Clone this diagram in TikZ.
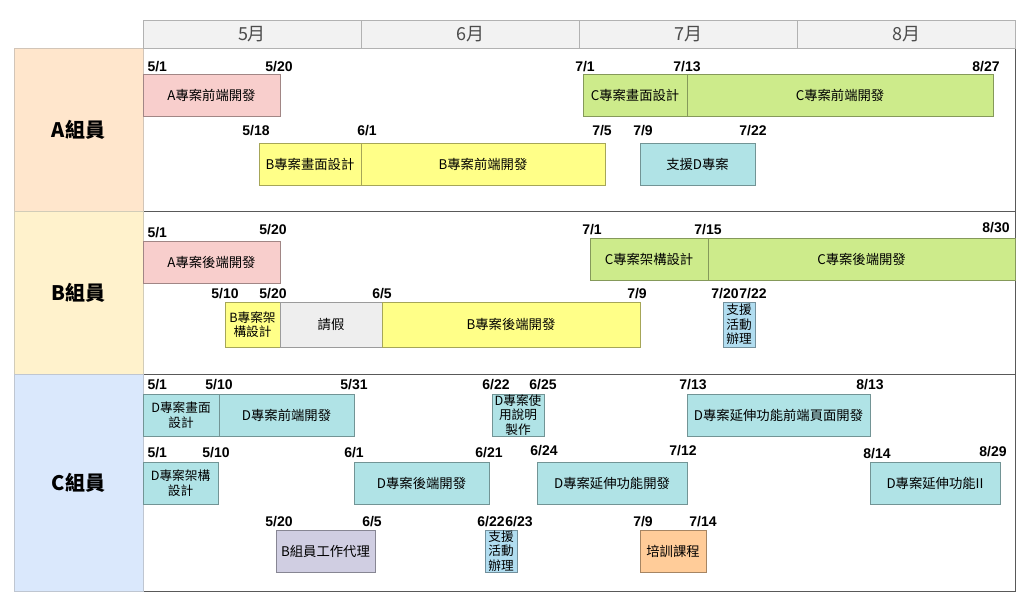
\documentclass[tikz,border=0pt]{standalone}
\usepackage{fontspec}
\setmainfont{Liberation Sans}
\newfontfamily\cjk{Noto Sans CJK TC}
\usetikzlibrary{positioning}
\definecolor{cpink}{HTML}{F8CECC}
\definecolor{cgreen}{HTML}{CDEB8B}
\definecolor{cyellow}{HTML}{FFFF88}
\definecolor{ccyan}{HTML}{B0E3E6}
\definecolor{clblue}{HTML}{B1DDF0}
\definecolor{cleave}{HTML}{EEEEEE}
\definecolor{cpurple}{HTML}{D0CEE2}
\definecolor{corange}{HTML}{FFCC99}
\definecolor{cmemA}{HTML}{FFE6CC}
\definecolor{cmemB}{HTML}{FFF2CC}
\definecolor{cmemC}{HTML}{DAE8FC}
\tikzset{
  every picture/.style={x=0.75pt, y=-0.75pt, line width=0.75pt},
  w/.style={minimum width=#1*0.75pt},
  h/.style={minimum height=#1*0.75pt},
  task/.style={draw=#1!65!black, fill=#1, h=42, inner sep=0, outer sep=0, align=center,
    font=\cjk\fontsize{10}{13}\selectfont},
  small/.style={font=\cjk\fontsize{9.5}{11}\selectfont},
  month/.style={draw=gray!60, fill=gray!10, w=218, h=28, inner sep=0, outer sep=0,
    text=black!70, font=\cjk\fontsize{13.5}{16}\selectfont},
  member/.style={draw=#1!75!black!70, fill=#1, w=129, h=163, inner sep=0, outer sep=0,
    font=\cjk\bfseries\fontsize{15}{18}\selectfont},
  lane/.style={draw=black!65, w=872, h=163, inner sep=0, outer sep=0},
  date/.style={font=\bfseries\fontsize{10.5}{12}\selectfont, inner sep=0, anchor=base},
}
\begin{document}
\begin{tikzpicture}
  \useasboundingbox (0,0) rectangle (1024,601);
  % lanes and members
  \node[lane, anchor=north west] (laneA) at (143,48) {};
  \node[lane, anchor=north west] (laneB) at (143,211) {};
  \node[lane, h=217, anchor=north west] (laneC) at (143,374) {};
  \node[member=cmemA, anchor=north west] (memA) at (14,48) {A組員};
  \node[member=cmemB, anchor=north west] (memB) at (14,211) {B組員};
  \node[member=cmemC, h=217, anchor=north west] (memC) at (14,374) {C組員};
  % months
  \node[month, anchor=north west] (m5) at (143,20) {5月};
  \node[month, right=0pt of m5] (m6) {6月};
  \node[month, right=0pt of m6] (m7) {7月};
  \node[month, right=0pt of m7] (m8) {8月};

  % A
  \node[task=cpink, w=137, anchor=north west] (aFront) at (143,74) {A專案前端開發};
  \node[task=cgreen, w=104, anchor=north west] (cUi) at (583,74) {C專案畫面設計};
  \node[task=cgreen, w=306, right=0pt of cUi] (cFront) {C專案前端開發};
  \node[task=cyellow, w=102, anchor=north west] (bUi) at (259,143) {B專案畫面設計};
  \node[task=cyellow, w=244, right=0pt of bUi] (bFront) {B專案前端開發};
  \node[task=ccyan, w=115, anchor=north west] (dHelp) at (640,143) {支援D專案};
  \node[date, anchor=base west] (dA1) at (147,71) {5/1};
  \node[date] (dA2) at (279,71) {5/20};
  \node[date] (dA3) at (585,71) {7/1};
  \node[date] (dA4) at (687,71) {7/13};
  \node[date] (dA5) at (986,71) {8/27};
  \node[date] (dA6) at (256,135) {5/18};
  \node[date] (dA7) at (367,135) {6/1};
  \node[date] (dA8) at (602,135) {7/5};
  \node[date] (dA9) at (643,135) {7/9};
  \node[date] (dA10) at (753,135) {7/22};

  % B
  \node[task=cpink, w=137, anchor=north west] (aBack) at (143,241) {A專案後端開發};
  \node[task=cgreen, w=118, anchor=north west] (cArch) at (590,238) {C專案架構設計};
  \node[task=cgreen, w=307, right=0pt of cArch] (cBack) {C專案後端開發};
  \node[task=cyellow, small, w=55, h=45, anchor=north west] (bArch) at (225,302) {B專案架\\構設計};
  \node[task=cleave, w=102, h=45, right=0pt of bArch] (leave) {請假};
  \node[task=cyellow, w=258, h=45, right=0pt of leave] (bBack) {B專案後端開發};
  \node[task=clblue, small, w=32, h=45, anchor=north west] (bEvent) at (723,302) {支援\\活動\\辦理};
  \node[date, anchor=base west] (dB1) at (147,237) {5/1};
  \node[date] (dB2) at (273,234) {5/20};
  \node[date] (dB3) at (592,234) {7/1};
  \node[date] (dB4) at (708,234) {7/15};
  \node[date] (dB5) at (996,232) {8/30};
  \node[date] (dB6) at (225,298) {5/10};
  \node[date] (dB7) at (273,298) {5/20};
  \node[date] (dB8) at (382,298) {6/5};
  \node[date] (dB9) at (637,298) {7/9};
  \node[date] (dB10) at (725,298) {7/20};
  \node[date] (dB11) at (753,298) {7/22};

  % C
  \node[task=ccyan, small, w=76, anchor=north west] (dUi) at (143,394) {D專案畫面\\設計};
  \node[task=ccyan, w=135, right=0pt of dUi] (dFront) {D專案前端開發};
  \node[task=ccyan, small, w=52, anchor=north west] (dManual) at (492,394) {D專案使\\用說明\\製作};
  \node[task=ccyan, w=183, anchor=north west] (dExtFront) at (687,394) {D專案延伸功能前端頁面開發};
  \node[task=ccyan, small, w=75, anchor=north west] (dArch) at (143,462) {D專案架構\\設計};
  \node[task=ccyan, w=135, anchor=north west] (dBack) at (354,462) {D專案後端開發};
  \node[task=ccyan, w=150, anchor=north west] (dExt) at (537,462) {D專案延伸功能開發};
  \node[task=ccyan, w=130, anchor=north west] (dExt2) at (870,462) {D專案延伸功能II};
  \node[task=cpurple, w=99, anchor=north west] (cProxy) at (276,530) {B組員工作代理};
  \node[task=clblue, small, w=32, anchor=north west] (cEvent) at (485,530) {支援\\活動\\辦理};
  \node[task=corange, w=66, anchor=north west] (train) at (640,530) {培訓課程};
  \node[date, anchor=base west] (dC1) at (147,389) {5/1};
  \node[date] (dC2) at (219,389) {5/10};
  \node[date] (dC3) at (354,389) {5/31};
  \node[date] (dC4) at (496,389) {6/22};
  \node[date] (dC5) at (543,389) {6/25};
  \node[date] (dC6) at (693,389) {7/13};
  \node[date] (dC7) at (870,389) {8/13};
  \node[date, anchor=base west] (dC8) at (147,457) {5/1};
  \node[date] (dC9) at (216,457) {5/10};
  \node[date] (dC10) at (354,457) {6/1};
  \node[date] (dC11) at (489,457) {6/21};
  \node[date] (dC12) at (544,455) {6/24};
  \node[date] (dC13) at (683,455) {7/12};
  \node[date] (dC14) at (877,458) {8/14};
  \node[date] (dC15) at (993,456) {8/29};
  \node[date] (dC16) at (279,526) {5/20};
  \node[date] (dC17) at (372,526) {6/5};
  \node[date] (dC18) at (491,526) {6/22};
  \node[date] (dC19) at (519,526) {6/23};
  \node[date] (dC20) at (643,526) {7/9};
  \node[date] (dC21) at (703,526) {7/14};
\end{tikzpicture}
\end{document}
